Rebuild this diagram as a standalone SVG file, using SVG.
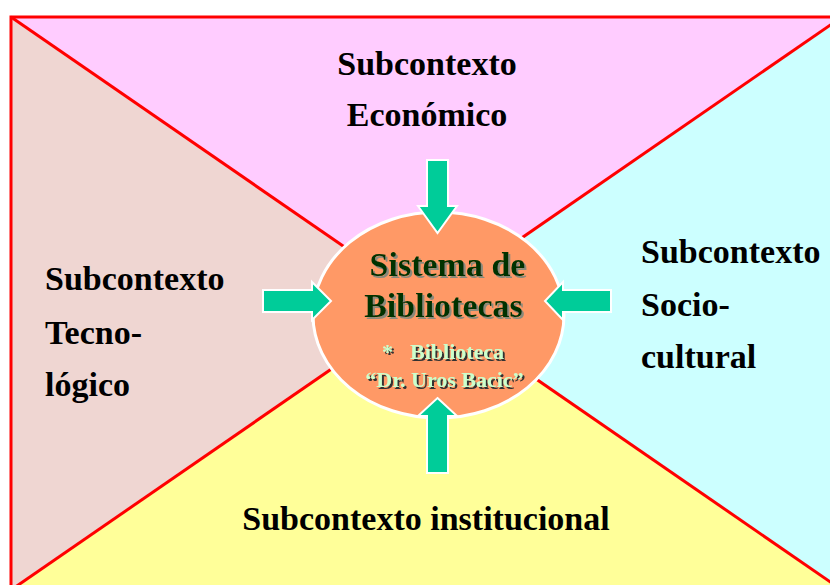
<svg xmlns="http://www.w3.org/2000/svg" width="830" height="585" viewBox="0 0 830 585">
<style>
.lbl{font-family:"Liberation Serif","Times New Roman",serif;font-weight:bold;font-size:34px;fill:#000}
.ctr{font-family:"Liberation Serif","Times New Roman",serif;font-weight:bold}
.arrow{fill:#00CC99;stroke:#fff;stroke-width:2;stroke-linejoin:miter}
.border{fill:none;stroke:#FF0000;stroke-width:3}
</style>
<defs>
<filter id="shGray" x="-10%" y="-20%" width="120%" height="140%">
<feFlood flood-color="#8a8a7a"/>
<feComposite in2="SourceAlpha" operator="in"/>
<feOffset dx="2" dy="2" result="s"/>
<feMerge><feMergeNode in="s"/><feMergeNode in="SourceGraphic"/></feMerge>
</filter>
<filter id="shDark" x="-10%" y="-20%" width="120%" height="140%">
<feFlood flood-color="#333333"/>
<feComposite in2="SourceAlpha" operator="in"/>
<feOffset dx="1.5" dy="1.5" result="s"/>
<feMerge><feMergeNode in="s"/><feMergeNode in="SourceGraphic"/></feMerge>
</filter>
</defs>
<rect width="830" height="585" fill="#fff"/>
<g id="sector-economico">
<polygon points="11,17 842,17 426.5,303.5" fill="#FFCCFF"/>
<text class="lbl" x="427" y="75" text-anchor="middle">Subcontexto</text>
<text class="lbl" x="427" y="126" text-anchor="middle">Económico</text>
</g>
<g id="sector-tecnologico">
<polygon points="11,17 11,590 426.5,303.5" fill="#EFD6D2"/>
<text class="lbl" x="45" y="290">Subcontexto</text>
<text class="lbl" x="45" y="344">Tecno-</text>
<text class="lbl" x="45" y="396">lógico</text>
</g>
<g id="sector-sociocultural">
<polygon points="842,17 842,590 426.5,303.5" fill="#CCFFFF"/>
<text class="lbl" x="641" y="263">Subcontexto</text>
<text class="lbl" x="641" y="316">Socio-</text>
<text class="lbl" x="641" y="368">cultural</text>
</g>
<g id="sector-institucional">
<polygon points="11,590 842,590 426.5,303.5" fill="#FFFF99"/>
<text class="lbl" x="426" y="530" text-anchor="middle">Subcontexto institucional</text>
</g>
<g id="borders">
<rect class="border" x="11" y="17" width="831" height="573"/>
<line class="border" x1="11" y1="17" x2="842" y2="590"/>
<line class="border" x1="842" y1="17" x2="11" y2="590"/>
</g>
<g id="sistema-bibliotecas">
<ellipse cx="438.5" cy="315" rx="125.5" ry="103" fill="#FF9966" stroke="#fff" stroke-width="3"/>
<g class="ctr" font-size="34" text-anchor="middle" fill="#003300" filter="url(#shGray)">
<text x="447.5" y="276">Sistema de</text>
<text x="443.5" y="317">Bibliotecas</text>
</g>
<g class="ctr" font-size="22" fill="#CCFFCC" filter="url(#shDark)">
<text x="382" y="359">*<tspan x="410">Biblioteca</tspan></text>
<text x="444.5" y="387" text-anchor="middle">“Dr. Uros Bacic”</text>
</g>
</g>
<g id="connectors">
<polygon class="arrow" points="427,160 448,160 448,206 457,206 437.5,233 418,206 427,206"/>
<polygon class="arrow" points="437.5,398 457,416 448,416 448,473 427,473 427,416 418,416"/>
<polygon class="arrow" points="263,290 312,290 312,282 331,301 312,320 312,312 263,312"/>
<polygon class="arrow" points="611,290 563,290 563,282 545,301 563,320 563,312 611,312"/>
</g>
</svg>
